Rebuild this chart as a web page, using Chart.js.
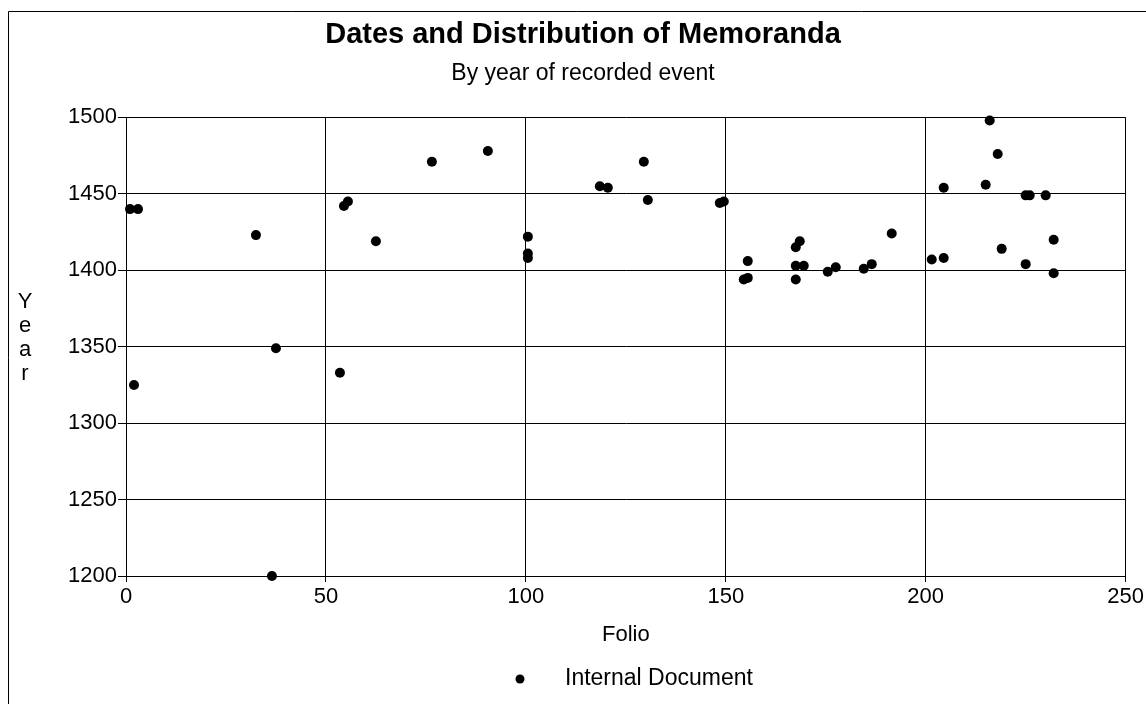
<!DOCTYPE html>
<html>
<head>
<meta charset="utf-8">
<script src="https://cdn.jsdelivr.net/npm/chart.js@4.4.1/dist/chart.umd.min.js"></script>
<style>
  html, body { margin: 0; padding: 0; background: #fff; }
  #wrap { width: 1146px; height: 704px; }
</style>
</head>
<body>
<div id="wrap"><canvas id="memoChart"></canvas></div>
<script>
// folio number and year of each recorded memorandum
const folios = [1, 3, 2, 32.5, 36.5, 37.5, 53.5, 54.5, 55.5, 62.5,
  76.5, 90.5, 100.5, 100.5, 100.5, 118.5, 120.5, 129.5, 130.5, 148.5,
  149.5, 154.5, 155.5, 155.5, 167.5, 168.5, 167.5, 169.5, 167.5, 175.5,
  177.5, 184.5, 186.5, 191.5, 201.5, 204.5, 204.5, 215, 216, 218,
  219, 225, 226, 225, 230, 232, 232];
const years = [1440, 1440, 1325, 1423, 1200, 1349, 1333, 1442, 1445, 1419,
  1471, 1478, 1422, 1408, 1411, 1455, 1454, 1471, 1446, 1444,
  1445, 1394, 1395, 1406, 1415, 1419, 1403, 1403, 1394, 1399,
  1402, 1401, 1404, 1424, 1407, 1408, 1454, 1456, 1498, 1476,
  1414, 1449, 1449, 1404, 1449, 1420, 1398];

const xRange = [0, 250, 50];      // min, max, step
const yRange = [1200, 1500, 50];
const seriesName = "Internal Document";
const yTitle = ["Y", "e", "a", "r"];

const FONT = "'Liberation Sans', Arial, sans-serif";

// frame, stacked y title and legend, drawn like the original page
const extras = {
  id: "extras",
  afterDraw(chart) {
    const ctx = chart.ctx;
    ctx.save();
    ctx.strokeStyle = "#000";
    ctx.lineWidth = 1;
    ctx.beginPath();
    ctx.moveTo(8.5, 704);
    ctx.lineTo(8.5, 11.5);
    ctx.lineTo(1146, 11.5);
    ctx.stroke();

    ctx.fillStyle = "#000";
    ctx.font = "22px " + FONT;
    ctx.textAlign = "center";
    ctx.textBaseline = "alphabetic";
    yTitle.forEach((ch, i) => ctx.fillText(ch, 25, 308 + i * 24));

    // legend
    ctx.font = "23px " + FONT;
    ctx.beginPath();
    ctx.arc(520, 679, 4.5, 0, Math.PI * 2);
    ctx.fill();
    ctx.textAlign = "left";
    ctx.textBaseline = "middle";
    ctx.fillText(chart.data.datasets[0].label, 565, 679);
    ctx.restore();
  }
};

new Chart(document.getElementById("memoChart"), {
  type: "scatter",
  data: {
    datasets: [{
      label: seriesName,
      data: folios.map((f, i) => ({ x: f, y: years[i] })),
      pointRadius: 5,
      pointHoverRadius: 5,
      backgroundColor: "#000",
      borderWidth: 0,
      clip: false
    }]
  },
  options: {
    responsive: true,
    maintainAspectRatio: false,
    animation: false,
    layout: { padding: { left: 40, right: 20, top: 10, bottom: 0 } },
    plugins: {
      legend: { display: false },
      tooltip: { enabled: false },
      title: {
        display: true,
        text: "Dates and Distribution of Memoranda",
        color: "#000",
        font: { family: FONT, size: 29, weight: "bold", lineHeight: 1.2 },
        padding: { top: 8, bottom: 0 }
      },
      subtitle: {
        display: true,
        text: "By year of recorded event",
        color: "#000",
        font: { family: FONT, size: 23, lineHeight: 1.2 },
        padding: { top: 7, bottom: 30 }
      }
    },
    scales: {
      x: {
        type: "linear",
        min: xRange[0], max: xRange[1],
        ticks: {
          stepSize: xRange[2], color: "#000", padding: 2,
          font: { family: FONT, size: 22 },
          callback: v => String(v)
        },
        grid: { color: "#000", lineWidth: 1, tickLength: 6 },
        border: { color: "#000" },
        title: {
          display: true, text: "Folio", color: "#000",
          font: { family: FONT, size: 22 }, padding: { bottom: 56 }
        },
        afterFit(scale) { scale.height = 128; }
      },
      y: {
        type: "linear",
        min: yRange[0], max: yRange[1],
        ticks: {
          stepSize: yRange[2], color: "#000", padding: 1,
          font: { family: FONT, size: 22 },
          callback: v => String(v)
        },
        grid: { color: "#000", lineWidth: 1, tickLength: 8 },
        border: { color: "#000" },
        afterFit(scale) { scale.width = 86; }
      }
    }
  },
  plugins: [extras]
});
</script>
</body>
</html>
